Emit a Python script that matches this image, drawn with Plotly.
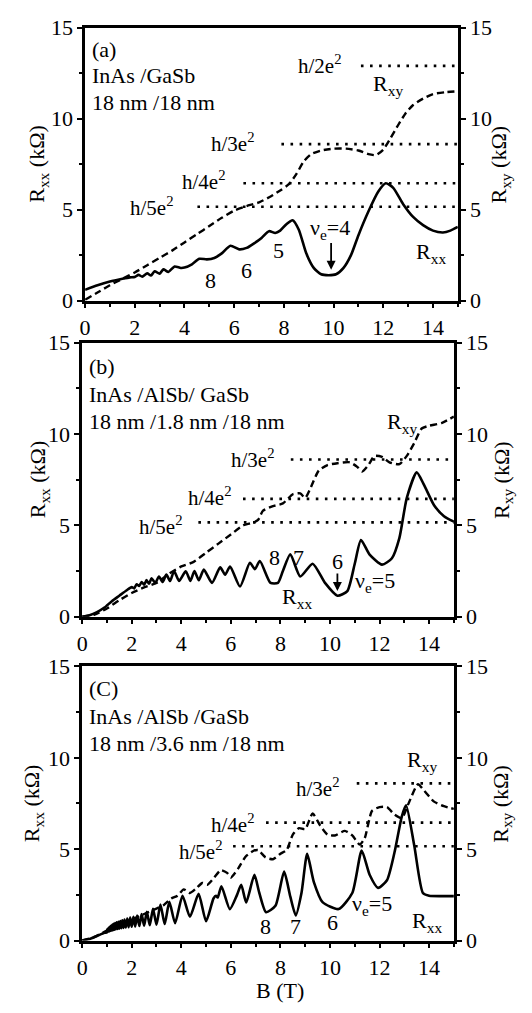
import plotly.graph_objects as go

# ---------------- data ----------------
# Panel (a)  InAs/GaSb 18/18 nm
a_rxx_B = [0, 0.5, 1.0, 1.5, 1.8, 2.0, 2.15, 2.3, 2.5, 2.65, 2.8, 3.0, 3.15, 3.35, 3.6, 3.85, 4.0, 4.3, 4.6,
           4.9, 5.2, 5.5, 5.85, 6.2, 6.5, 6.8, 7.1, 7.4, 7.65, 7.85, 8.1, 8.35, 8.6, 8.9, 9.2, 9.5, 9.8, 10.1,
           10.4, 10.7, 11.0, 11.4, 11.8, 12.1, 12.4, 12.8, 13.2, 13.6, 14.0, 14.4, 14.7, 15.0]
a_rxx = [0.6, 0.85, 1.05, 1.2, 1.28, 1.3, 1.42, 1.32, 1.5, 1.38, 1.62, 1.48, 1.72, 1.58, 1.88, 1.8, 1.82, 2.0,
         2.3, 2.27, 2.35, 2.6, 3.02, 2.82, 2.9, 3.15, 3.45, 3.82, 3.72, 3.85, 4.2, 4.42, 3.9, 2.6, 1.8, 1.45,
         1.4, 1.45, 1.8, 2.5, 3.6, 4.9, 6.0, 6.45, 6.2, 5.3, 4.6, 4.15, 3.85, 3.75, 3.85, 4.05]
a_rxy_B = [0, 0.5, 1.0, 1.5, 2.0, 2.5, 3.0, 3.5, 4.0, 4.5, 5.0, 5.5, 6.0, 6.5, 7.0, 7.5, 7.9, 8.2, 8.5, 8.8,
           9.1, 9.5, 10.0, 10.5, 11.0, 11.4, 11.7, 12.0, 12.3, 12.6, 12.9, 13.2, 13.6, 14.0, 14.5, 15.0]
a_rxy = [0.05, 0.45, 0.85, 1.2, 1.55, 1.95, 2.35, 2.75, 3.2, 3.65, 4.1, 4.55, 4.95, 5.2, 5.4, 5.75, 6.1, 6.4,
         6.95, 7.65, 8.05, 8.25, 8.35, 8.35, 8.25, 8.05, 8.0, 8.3, 8.95, 9.65, 10.3, 10.75, 11.1, 11.35, 11.45, 11.5]

# Panel (b)  InAs/AlSb/GaSb 18/1.8/18 nm
b_rxx_B = [0, 0.3, 0.6, 0.9, 1.2, 1.5, 1.8, 2.0, 2.1, 2.2, 2.3, 2.4, 2.5, 2.6, 2.7, 2.8, 2.95, 3.1, 3.25, 3.4,
           3.55, 3.71, 3.91, 4.18, 4.37, 4.53, 4.71, 4.91, 5.24, 5.57, 5.77, 5.97, 6.37, 6.77, 6.97, 7.17, 7.6,
           7.9, 8.1, 8.4, 8.8, 9.3, 9.8, 10.3, 10.7, 11.0, 11.25, 11.6, 12.1, 12.5, 12.8, 13.1, 13.5, 13.8,
           14.2, 14.6, 15.0]
b_rxx = [0, 0.08, 0.25, 0.5, 0.85, 1.15, 1.45, 1.62, 1.55, 1.78, 1.68, 1.9, 1.75, 2.0, 1.8, 2.1, 1.85, 2.2,
         1.9, 2.3, 1.95, 2.5, 1.96, 2.49, 1.96, 2.5, 2.0, 2.58, 1.85, 2.7, 2.3, 2.75, 1.65, 2.95, 2.6, 3.05,
         1.85, 1.85, 2.5, 3.42, 2.2, 2.9, 1.85, 1.15, 1.4, 2.9, 4.2, 3.4, 2.85, 3.2, 4.3, 6.5, 7.9, 7.2,
         6.1, 5.5, 5.2]
b_rxy_B = [0, 0.5, 1.0, 1.5, 2.0, 2.5, 3.0, 3.5, 4.0, 4.5, 5.0, 5.5, 6.0, 6.5, 6.9, 7.1, 7.3, 7.7, 8.1, 8.5,
           8.8, 9.0, 9.2, 9.55, 9.9, 10.3, 10.8, 11.1, 11.3, 11.55, 11.8, 12.1, 12.4, 12.8, 13.1, 13.4, 13.7,
           14.0, 14.5, 15.0]
b_rxy = [0, 0.12, 0.45, 0.9, 1.3, 1.6, 1.85, 2.35, 2.75, 3.0, 3.5, 4.0, 4.5, 5.0, 5.15, 5.3, 5.8, 6.05, 6.2,
         6.7, 6.75, 6.5, 7.0, 8.0, 8.3, 8.4, 8.45, 8.2, 7.95, 8.3, 8.8, 8.75, 8.45, 8.35, 8.8, 9.5, 10.3,
         10.45, 10.6, 10.95]

# Panel (c)  InAs/AlSb/GaSb 18/3.6/18 nm
c_rxx_B = [0, 0.3, 0.6, 0.9, 1.0, 1.015, 1.03, 1.05, 1.07, 1.09, 1.11, 1.13, 1.15, 1.175, 1.2, 1.225, 1.25,
           1.275, 1.3, 1.33, 1.36, 1.395, 1.43, 1.465, 1.5, 1.54, 1.58, 1.62, 1.67, 1.71, 1.76, 1.82, 1.875,
           1.94, 2.0, 2.07, 2.14, 2.22, 2.31, 2.40, 2.50, 2.61, 2.73, 2.86, 3.0, 3.16, 3.33, 3.52, 3.75, 4.05,
           4.35, 4.7, 5.0, 5.3, 5.4, 5.47, 5.62, 5.96, 6.25, 6.42, 6.62, 6.95, 7.15, 7.42, 7.8, 8.15, 8.4, 8.62,
           8.85, 9.08, 9.35, 9.7, 10.35, 10.9, 11.28, 11.6, 11.94, 12.3, 12.6, 12.9, 13.07, 13.4, 13.75, 14.0,
           14.5, 15.0]
c_rxx = [0, 0.08, 0.25, 0.42, 0.45, 0.62, 0.47, 0.67, 0.49, 0.72, 0.51, 0.77, 0.53, 0.82, 0.55, 0.87, 0.57,
         0.91, 0.59, 0.95, 0.61, 0.99, 0.63, 1.03, 0.65, 1.07, 0.67, 1.11, 0.69, 1.15, 0.71, 1.2, 0.73,
         1.25, 0.75, 1.3, 0.77, 1.36, 0.79, 1.45, 0.81, 1.57, 0.84, 1.74, 0.87, 1.97, 0.9, 2.12, 0.95, 2.45,
         1.3, 2.55, 1.05, 2.3, 2.45, 2.35, 2.97, 1.72, 2.5, 3.05, 2.08, 3.59, 2.6, 1.55, 1.9, 3.77, 2.4, 1.37,
         2.6, 4.74, 3.2, 2.1, 1.72, 2.6, 4.92, 3.6, 2.88, 3.3, 4.8, 6.8, 7.4, 5.2, 2.6, 2.45,
         2.43, 2.43]
c_rxy_B = [0, 0.5, 1.0, 1.5, 2.0, 2.5, 3.0, 3.3, 3.6, 3.85, 4.1, 4.35, 4.6, 4.85, 5.05, 5.3, 5.6, 5.85, 6.0,
           6.3, 6.6, 6.9, 7.1, 7.4, 7.7, 8.0, 8.25, 8.5, 8.75, 9.0, 9.3, 9.6, 9.9, 10.2, 10.6, 10.9, 11.2,
           11.4, 11.7, 12.0, 12.3, 12.6, 12.9, 13.2, 13.55, 13.8, 14.2, 14.6, 15.0]
c_rxy = [0, 0.2, 0.55, 0.85, 1.15, 1.45, 1.75, 1.95, 2.3, 2.45, 2.8, 2.6, 2.85, 3.15, 3.05, 3.4, 3.85, 3.7,
         3.45, 3.95, 4.6, 4.9, 4.95, 4.55, 4.45, 4.75, 4.95, 5.8, 6.15, 6.1, 6.95, 6.3, 5.8, 5.75, 6.0, 5.75,
         5.25, 5.6, 7.1, 7.3, 7.3, 6.9, 6.7, 7.6, 8.55, 8.2, 7.6, 7.35, 7.2]

# quantized Hall plateaus (kOhm) and start field of each dotted guide line per panel
plateau_labels = ["h/2e<sup>2</sup>", "h/3e<sup>2</sup>", "h/4e<sup>2</sup>", "h/5e<sup>2</sup>"]
plateau_vals = [12.9, 8.6, 6.45, 5.16]
a_plateau_start = [11.1, 7.9, 6.37, 4.52]
b_plateau_start = [None, 8.42, 6.49, 4.69]
c_plateau_start = [None, 11.08, 7.42, 6.09]

x_ticks = [0, 2, 4, 6, 8, 10, 12, 14]
y_ticks = [0, 5, 10, 15]

# ---------------- figure ----------------
FONT = "Liberation Serif"
TICK_SIZE = 22
TEXT_SIZE = 22
LABEL_SIZE = 21
W, H = 532, 1013

panels = [
    # (x px left, x px right, y px top, y px bottom)
    dict(xl=80, xr=457, yt=16, yb=296),
    dict(xl=77, xr=453, yt=339, yb=620),
    dict(xl=77, xr=453, yt=671, yb=952),
]

fig = go.Figure()
layout = dict(width=W, height=H, margin=dict(l=0, r=0, t=0, b=0),
              paper_bgcolor="white", plot_bgcolor="white", showlegend=False,
              font=dict(family=FONT, size=TICK_SIZE, color="black"))

axis_common = dict(range=[0, 15], showgrid=False, zeroline=False, showline=True, linecolor="black",
                   linewidth=2.5, ticks="outside", ticklen=5, tickwidth=2, tickcolor="black",
                   tickfont=dict(family=FONT, size=TICK_SIZE, color="black"), fixedrange=True)

for i, p in enumerate(panels):
    xn = "" if i == 0 else str(i + 1)
    yl = str(2 * i + 1) if i > 0 else ""
    yr = str(2 * i + 2)
    xdom = [p["xl"] / W, p["xr"] / W]
    ydom = [1 - p["yb"] / H, 1 - p["yt"] / H]
    layout["xaxis" + xn] = dict(axis_common, domain=xdom, anchor="y" + yl, mirror=True,
                                tickvals=x_ticks, minor=dict(ticks="outside", dtick=1, ticklen=4,
                                                             tickwidth=1.5, tickcolor="black"))
    layout["yaxis" + yl] = dict(axis_common, domain=ydom, anchor="x" + xn, side="left",
                                tickvals=y_ticks, minor=dict(ticks="outside", dtick=2.5, ticklen=3,
                                                             tickwidth=1.5, tickcolor="black"))
    layout["yaxis" + yr] = dict(axis_common, overlaying="y" + yl, anchor="x" + xn, side="right",
                                tickvals=y_ticks, minor=dict(ticks="outside", dtick=2.5, ticklen=3,
                                                             tickwidth=1.5, tickcolor="black"))

data_sets = [
    (a_rxx_B, a_rxx, a_rxy_B, a_rxy, a_plateau_start),
    (b_rxx_B, b_rxx, b_rxy_B, b_rxy, b_plateau_start),
    (c_rxx_B, c_rxx, c_rxy_B, c_rxy, c_plateau_start),
]

for i, (bx, rxx, by, rxy, pstart) in enumerate(data_sets):
    xn = "x" if i == 0 else "x" + str(i + 1)
    yl = "y" if i == 0 else "y" + str(2 * i + 1)
    yr = "y" + str(2 * i + 2)
    # dotted plateau guides
    for val, start in zip(plateau_vals, pstart):
        if start is None:
            continue
        fig.add_trace(go.Scatter(x=[start, 15], y=[val, val], xaxis=xn, yaxis=yr, mode="lines",
                                 line=dict(color="black", width=2.6, dash="2.6px,6.5px"),
                                 hoverinfo="skip"))
    fig.add_trace(go.Scatter(x=by, y=rxy, xaxis=xn, yaxis=yr, mode="lines",
                             line=dict(color="black", width=2.4, dash="7px,4px", shape="spline",
                                       smoothing=0.6)))
    fig.add_trace(go.Scatter(x=bx, y=rxx, xaxis=xn, yaxis=yl, mode="lines",
                             line=dict(color="black", width=2.6, shape="spline", smoothing=0.6)))

ann = []


def txt(text, x, y, ref, size=TEXT_SIZE, xanchor="center", yanchor="middle"):
    ann.append(dict(text=text, x=x, y=y, xref=ref[0], yref=ref[1], showarrow=False,
                    font=dict(family=FONT, size=size, color="black"), xanchor=xanchor, yanchor=yanchor))


refs = [("x", "y"), ("x2", "y3"), ("x3", "y5")]

# panel (a)
r = refs[0]
txt("(a)", 0.2, 13.8, r, xanchor="left")
txt("InAs /GaSb", 0.2, 12.35, r, xanchor="left")
txt("18 nm /18 nm", 0.2, 10.9, r, xanchor="left")
txt(plateau_labels[0], 9.45, 12.95, r, size=LABEL_SIZE)
txt(plateau_labels[1], 5.95, 8.7, r, size=LABEL_SIZE)
txt(plateau_labels[2], 4.8, 6.6, r, size=LABEL_SIZE)
txt(plateau_labels[3], 2.7, 5.2, r, size=LABEL_SIZE)
txt("R<sub>xy</sub>", 12.2, 11.85, r)
txt("R<sub>xx</sub>", 13.9, 2.6, r)
txt("ν<sub>e</sub>=4", 9.85, 3.95, r)
txt("8", 5.05, 1.12, r)
txt("6", 6.5, 1.66, r)
txt("5", 7.8, 2.73, r)
ann.append(dict(x=9.9, y=1.7, ax=9.9, ay=3.25, xref="x", yref="y", axref="x", ayref="y",
                showarrow=True, arrowhead=2, arrowsize=1, arrowwidth=1.8, arrowcolor="black", text=""))

# panel (b)
r = refs[1]
txt("(b)", 0.2, 13.7, r, xanchor="left")
txt("InAs /AlSb/ GaSb", 0.2, 12.15, r, xanchor="left")
txt("18 nm /1.8 nm /18 nm", 0.2, 10.7, r, xanchor="left")
txt(plateau_labels[1], 6.9, 8.65, r, size=LABEL_SIZE)
txt(plateau_labels[2], 5.15, 6.6, r, size=LABEL_SIZE)
txt(plateau_labels[3], 3.2, 5.0, r, size=LABEL_SIZE)
txt("R<sub>xy</sub>", 12.9, 10.6, r)
txt("R<sub>xx</sub>", 8.65, 1.0, r)
txt("8", 7.75, 3.25, r)
txt("7", 8.75, 3.25, r)
txt("6", 10.3, 3.0, r)
txt("ν<sub>e</sub>=5", 11.8, 1.9, r)
ann.append(dict(x=10.3, y=1.4, ax=10.3, ay=2.45, xref="x2", yref="y3", axref="x2", ayref="y3",
                showarrow=True, arrowhead=2, arrowsize=1, arrowwidth=1.8, arrowcolor="black", text=""))

# panel (c)
r = refs[2]
txt("(C)", 0.18, 13.8, r, xanchor="left")
txt("InAs /AlSb /GaSb", 0.18, 12.25, r, xanchor="left")
txt("18 nm /3.6 nm /18 nm", 0.18, 10.8, r, xanchor="left")
txt(plateau_labels[1], 9.5, 8.4, r, size=LABEL_SIZE)
txt(plateau_labels[2], 6.1, 6.4, r, size=LABEL_SIZE)
txt(plateau_labels[3], 4.8, 4.95, r, size=LABEL_SIZE)
txt("R<sub>xy</sub>", 13.7, 9.8, r)
txt("R<sub>xx</sub>", 13.9, 1.0, r)
txt("8", 7.4, 0.75, r)
txt("7", 8.6, 0.75, r)
txt("6", 10.1, 1.0, r)
txt("ν<sub>e</sub>=5", 11.7, 1.95, r)

# axis titles
left_x = [33, 33, 28]
right_x = [500, 502, 502]
for i, p in enumerate(panels):
    yc = 1 - (p["yt"] + p["yb"]) / 2 / H
    ann.append(dict(text="R<sub>xx</sub> (kΩ)", x=left_x[i] / W, y=yc, xref="paper", yref="paper",
                    showarrow=False, textangle=-90, font=dict(family=FONT, size=TEXT_SIZE, color="black"),
                    xanchor="center", yanchor="middle"))
    ann.append(dict(text="R<sub>xy</sub> (kΩ)", x=right_x[i] / W, y=yc, xref="paper", yref="paper",
                    showarrow=False, textangle=-90, font=dict(family=FONT, size=TEXT_SIZE, color="black"),
                    xanchor="center", yanchor="middle"))
ann.append(dict(text="B (T)", x=277 / W, y=1 - 1003 / H, xref="paper", yref="paper", showarrow=False,
                font=dict(family=FONT, size=TEXT_SIZE, color="black"), xanchor="center", yanchor="middle"))

layout["annotations"] = ann
fig.update_layout(**layout)
fig.write_html("out.html")
